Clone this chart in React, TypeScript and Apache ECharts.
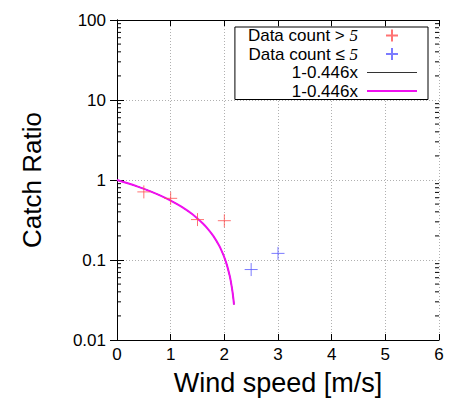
import React, { useEffect, useRef } from "react";
import * as echarts from "echarts";

const redX = [0.5, 1.0, 1.5, 2.0];
const redY = [0.71, 0.59, 0.32, 0.31];
const blueX = [2.5, 3.0];
const blueY = [0.076, 0.121];
const fitX = [0, 0.2, 0.4, 0.6, 0.8, 1.0, 1.2, 1.4, 1.6, 1.7, 1.8, 1.9, 1.95, 2.0, 2.05, 2.1, 2.12, 2.15, 2.17, 2.18];
const fitY = [1, 0.9108, 0.8216, 0.7324, 0.6432, 0.554, 0.4648, 0.3756, 0.2864, 0.2418, 0.1972, 0.1526, 0.1303, 0.108, 0.0857, 0.0634, 0.05448, 0.0411, 0.03218, 0.02772];
const xTicks = ["0", "1", "2", "3", "4", "5", "6"];
const yTickLabels = ["0.01", "0.1", "1", "10", "100"];
const decades = [0.01, 0.1, 1, 10];
const multipliers = [2, 3, 4, 5, 6, 7, 8, 9];
const legendNames = ["Data count > 5", "Data count \u2264 5", "1-0.446x", "1-0.446x "];

const FONT = "'Liberation Sans', Arial, Helvetica, sans-serif";

export default function App() {
  const ref = useRef<HTMLDivElement>(null);
  useEffect(() => {
    if (!ref.current) return;
    const chart = echarts.init(ref.current, null, { renderer: "svg" });
    const minorTicks: number[][] = [];
    decades.forEach((d) => multipliers.forEach((m) => minorTicks.push([0, d * m])));
    const crossPath = "path://M0,6H12M6,0V12";
    const axisLineStyle = { lineStyle: { color: "#000", width: 1 } };
    const yLabel = (v: number) => {
      const idx = Math.round(Math.log10(v)) + 2;
      return yTickLabels[idx] ?? "";
    };
    chart.setOption({
      animation: false,
      backgroundColor: "#fff",
      grid: { left: 117, right: 12, top: 20, bottom: 61, containLabel: false },
      legend: {
        data: [
          { name: legendNames[0] },
          { name: legendNames[1] },
          { name: legendNames[2], icon: "path://M0,0H50V1.2H0Z" },
          { name: legendNames[3], icon: "path://M0,0H50V1.8H0Z" },
        ],
        orient: "vertical",
        right: 23,
        top: 27,
        align: "right",
        itemWidth: 50,
        itemHeight: 12,
        itemGap: 1.5,
        padding: [0, 11, 0, 13],
        borderColor: "#000",
        borderWidth: 1,
        backgroundColor: "#fff",
        selectedMode: false,
        textStyle: {
          fontFamily: FONT,
          fontSize: 17,
          lineHeight: 17,
          color: "#000",
          padding: [0, 4, 0, 0],
          rich: {
            s: { fontFamily: "'Liberation Serif', 'DejaVu Serif', serif", fontStyle: "italic", fontSize: 17, lineHeight: 17 },
          },
        },
        formatter: (name: string) => {
          if (name.startsWith("Data count")) {
            const parts = name.split(" ");
            return "Data count " + parts[2] + " {s|" + parts[3] + "}";
          }
          return name.trim();
        },
      },
      xAxis: [
        {
          type: "value",
          min: 0,
          max: 6,
          interval: 1,
          name: "Wind speed [m/s]",
          nameLocation: "middle",
          nameGap: 29,
          nameTextStyle: { fontFamily: FONT, fontSize: 27, color: "#000" },
          axisLine: { show: true, ...axisLineStyle },
          axisTick: { show: true, inside: true, length: 6, lineStyle: { color: "#000" } },
          axisLabel: {
            fontFamily: FONT,
            fontSize: 17,
            color: "#000",
            margin: 6,
            formatter: (v: number) => xTicks[Math.round(v)] ?? "",
          },
          splitLine: { show: true, lineStyle: { color: "#b0b0b0", type: [1, 2], width: 1 } },
        },
        {
          type: "value",
          position: "top",
          min: 0,
          max: 6,
          interval: 1,
          axisLine: { show: true, ...axisLineStyle },
          axisTick: { show: true, inside: true, length: 6, lineStyle: { color: "#000" } },
          axisLabel: { show: false },
          splitLine: { show: false },
        },
      ],
      yAxis: [
        {
          type: "log",
          logBase: 10,
          min: 0.01,
          max: 100,
          name: "Catch Ratio",
          nameLocation: "middle",
          nameGap: 72,
          nameTextStyle: { fontFamily: FONT, fontSize: 26, color: "#000" },
          axisLine: { show: true, ...axisLineStyle },
          axisTick: { show: true, inside: true, length: 7, lineStyle: { color: "#000" } },
          axisLabel: { fontFamily: FONT, fontSize: 17, color: "#000", margin: 11, formatter: yLabel },
          splitLine: { show: true, lineStyle: { color: "#b0b0b0", type: [1, 2], width: 1 } },
          minorTick: { show: false },
        },
        {
          type: "log",
          logBase: 10,
          position: "right",
          min: 0.01,
          max: 100,
          axisLine: { show: true, ...axisLineStyle },
          axisTick: { show: true, inside: true, length: 7, lineStyle: { color: "#000" } },
          axisLabel: { show: false },
          splitLine: { show: false },
        },
      ],
      series: [
        {
          name: legendNames[0],
          type: "scatter",
          symbol: crossPath,
          symbolSize: 13,
          itemStyle: { color: "#ff5050", borderColor: "#ff5050", borderWidth: 1 },
          data: redX.map((x, i) => [x, redY[i]]),
          z: 5,
        },
        {
          name: legendNames[1],
          type: "scatter",
          symbol: crossPath,
          symbolSize: 13,
          itemStyle: { color: "#5a5aff", borderColor: "#5a5aff", borderWidth: 1 },
          data: blueX.map((x, i) => [x, blueY[i]]),
          z: 5,
        },
        {
          name: legendNames[2],
          type: "line",
          symbol: "none",
          lineStyle: { color: "#000", width: 1 },
          itemStyle: { color: "#333" },
          data: fitX.map((x, i) => [x, fitY[i]]),
          z: 3,
        },
        {
          name: legendNames[3],
          type: "line",
          symbol: "none",
          smooth: 0.2,
          lineStyle: { color: "#f010f0", width: 2 },
          itemStyle: { color: "#f010f0" },
          data: fitX.map((x, i) => [x, fitY[i]]),
          z: 4,
        },
        {
          type: "custom",
          silent: true,
          data: minorTicks,
          z: 6,
          renderItem: (_p: any, api: any) => {
            const v = api.value(1);
            const l = api.coord([0, v]);
            const r = api.coord([6, v]);
            return {
              type: "group",
              children: [
                { type: "line", shape: { x1: l[0], y1: l[1], x2: l[0] + 4, y2: l[1] }, style: { stroke: "#000", lineWidth: 1 } },
                { type: "line", shape: { x1: r[0] - 4, y1: r[1], x2: r[0], y2: r[1] }, style: { stroke: "#000", lineWidth: 1 } },
              ],
            };
          },
        },
      ],
    });
    return () => chart.dispose();
  }, []);
  return <div ref={ref} style={{ position: "absolute", left: 0, top: 0, width: 451, height: 401 }} />;
}
